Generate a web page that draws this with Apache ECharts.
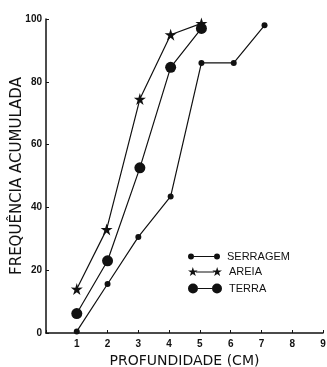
<!DOCTYPE html>
<html>
<head>
<meta charset="utf-8">
<script src="https://cdn.jsdelivr.net/npm/echarts@6/dist/echarts.min.js"></script>
<style>
  html, body { margin: 0; padding: 0; background: #fff; }
  #chart { width: 327px; height: 367px; }
</style>
</head>
<body>
<div id="chart"></div>
<script>
// valores (profundidade em cm, frequência acumulada em %)
const serragemX = [1, 2, 3, 4.05, 5.05, 6.1, 7.1];
const serragemY = [0.5, 15.6, 30.6, 43.5, 86, 86, 98];
const areiaX = [1, 1.97, 3.05, 4.05, 5.05];
const areiaY = [14, 33, 74.5, 95, 98.6];
const terraX = [1, 2, 3.05, 4.05, 5.05];
const terraY = [6.2, 23, 52.6, 84.6, 97];
const xTicks = [1, 2, 3, 4, 5, 6, 7, 8, 9];
const yTicks = [0, 20, 40, 60, 80, 100];

const ink = '#111';

// estrela de 5 pontas como path
function starPath(cx, cy, R, r) {
    let d = '';
    for (let k = 0; k < 10; k++) {
        const rad = k % 2 === 0 ? R : r;
        const a = (-90 + 36 * k) * Math.PI / 180;
        const x = (cx + rad * Math.cos(a)).toFixed(2);
        const y = (cy + rad * Math.sin(a)).toFixed(2);
        d += (k === 0 ? 'M' : 'L') + x + ',' + y;
    }
    return d + 'Z';
}
function circlePath(cx, cy, r) {
    return 'M' + (cx - r) + ',' + cy + 'a' + r + ',' + r + ' 0 1,1 ' + (2 * r) + ',0' +
        'a' + r + ',' + r + ' 0 1,1 ' + (-2 * r) + ',0Z';
}
function barPath(x1, x2, cy, h) {
    return 'M' + x1 + ',' + (cy - h / 2) + 'L' + x2 + ',' + (cy - h / 2) +
        'L' + x2 + ',' + (cy + h / 2) + 'L' + x1 + ',' + (cy + h / 2) + 'Z';
}

const star = 'path://' + starPath(5, 5, 5, 1.9);
const iconSerragem = 'path://' + circlePath(3, 3, 3) + barPath(6, 26, 3, 1) + circlePath(29, 3, 3);
const iconAreia = 'path://' + starPath(5, 5, 5, 1.9) + barPath(8, 26, 5, 1) + starPath(29, 5, 5, 1.9);
const iconTerra = 'path://' + circlePath(5, 5, 5) + barPath(10, 24, 5, 1) + circlePath(29, 5, 5);

const zip = (xs, ys) => xs.map((x, i) => [x, ys[i]]);

const chart = echarts.init(document.getElementById('chart'));

const legendBase = {
    left: 183,
    orient: 'vertical',
    itemGap: 4,
    selectedMode: false,
    textStyle: { color: ink, fontFamily: 'Liberation Sans', fontSize: 11, padding: [0, 0, 0, 2] }
};
const nameFont = { color: ink, fontFamily: 'DejaVu Sans', fontSize: 14 };

chart.setOption({
    backgroundColor: '#fff',
    animation: false,
    grid: { left: 46, right: 4, top: 19, bottom: 34, outerBoundsMode: 'none', containLabel: false },
    legend: [
        Object.assign({}, legendBase, { top: 246, itemWidth: 32, itemHeight: 6, data: [{ name: 'SERRAGEM', icon: iconSerragem }] }),
        Object.assign({}, legendBase, { top: 261, itemWidth: 34, itemHeight: 10, data: [{ name: 'AREIA', icon: iconAreia }] }),
        Object.assign({}, legendBase, { top: 278, itemWidth: 34, itemHeight: 10, data: [{ name: 'TERRA', icon: iconTerra }] })
    ],
    xAxis: {
        type: 'value',
        min: 0,
        max: 9,
        interval: 1,
        name: 'PROFUNDIDADE (CM)',
        nameLocation: 'middle',
        nameGap: 21,
        nameMoveOverlap: false,
        nameTextStyle: nameFont,
        axisLine: { lineStyle: { color: ink, width: 1.5 } },
        axisTick: { show: true, inside: true, length: 3, lineStyle: { color: ink } },
        axisLabel: {
            color: ink, fontFamily: 'Liberation Sans', fontWeight: 'bold', fontSize: 10, margin: 6,
            formatter: v => xTicks.includes(v) ? String(v) : ''
        },
        splitLine: { show: false }
    },
    yAxis: {
        type: 'value',
        min: 0,
        max: 100,
        interval: 20,
        name: 'FREQUÊNCIA ACUMULADA',
        nameLocation: 'middle',
        nameGap: 21,
        nameMoveOverlap: false,
        nameTextStyle: Object.assign({}, nameFont, { fontSize: 15 }),
        axisLine: { show: true, lineStyle: { color: ink, width: 1.5 } },
        axisTick: { show: true, inside: true, length: 3, lineStyle: { color: ink } },
        axisLabel: {
            color: ink, fontFamily: 'Liberation Sans', fontWeight: 'bold', fontSize: 10, margin: 4,
            formatter: v => yTicks.includes(v) ? String(v) : ''
        },
        splitLine: { show: false }
    },
    series: [
        {
            name: 'SERRAGEM',
            type: 'line',
            data: zip(serragemX, serragemY),
            symbol: 'circle',
            symbolSize: 6,
            lineStyle: { color: ink, width: 1.2 },
            itemStyle: { color: ink }
        },
        {
            name: 'AREIA',
            type: 'line',
            data: zip(areiaX, areiaY),
            symbol: star,
            symbolSize: 12,
            lineStyle: { color: ink, width: 1.2 },
            itemStyle: { color: ink }
        },
        {
            name: 'TERRA',
            type: 'line',
            data: zip(terraX, terraY),
            symbol: 'circle',
            symbolSize: 11,
            lineStyle: { color: ink, width: 1.2 },
            itemStyle: { color: ink }
        }
    ]
});
</script>
</body>
</html>
